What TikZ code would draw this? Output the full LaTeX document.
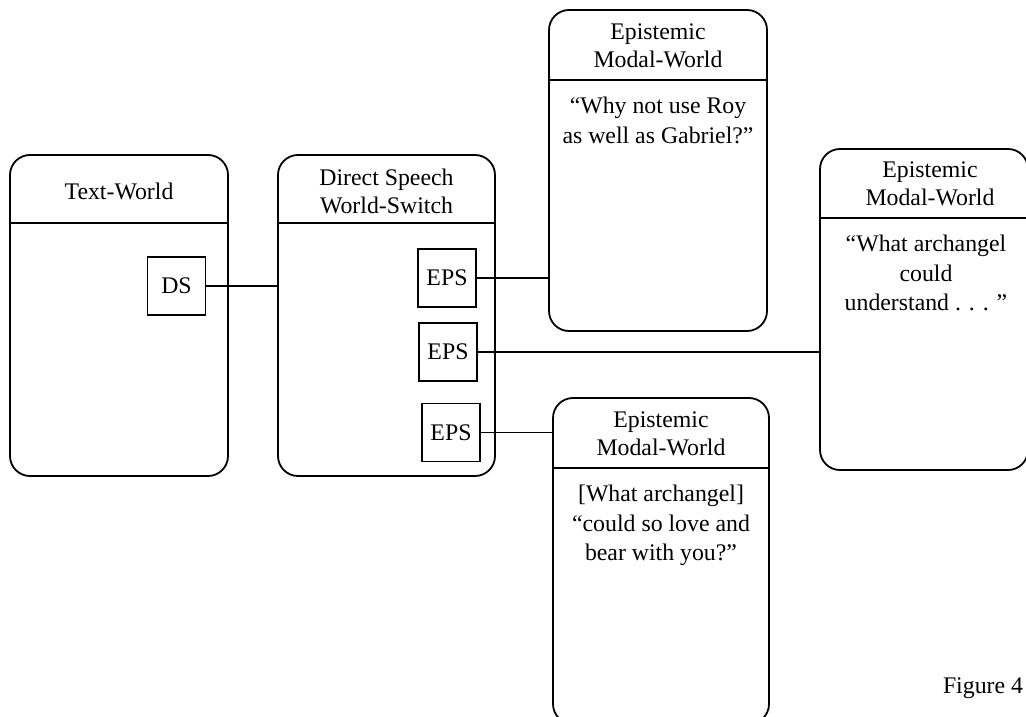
\documentclass[tikz,border=0pt]{standalone}
\usepackage{fontspec}
\setmainfont{Liberation Serif}
\begin{document}
\begin{tikzpicture}[x=1pt,y=-1pt,
  world/.style={draw, line width=1.8pt, rounded corners=20pt, inner sep=0pt},
  rule/.style={line width=1.8pt},
  slot/.style={draw, line width=1.7pt, inner sep=0pt, minimum width=58pt,
    minimum height=58pt, font=\fontsize{23.8}{28}\selectfont},
  head/.style={align=center, font=\fontsize{23.8}{28}\selectfont, inner sep=0pt},
  body/.style={align=center, font=\fontsize{23.8}{29.5}\selectfont, inner sep=0pt, anchor=north},
  link/.style={line width=1.6pt}]
\useasboundingbox (0,0) rectangle (1026,717);
\clip (0,0) rectangle (1026,717);

% world frames
\node[world, minimum width=218pt, minimum height=321pt] (tw)  at (119,315.5) {};
\node[world, minimum width=217pt, minimum height=321pt] (ws)  at (386.5,315.5) {};
\node[world, minimum width=218pt, minimum height=321pt] (em1) at (658,170.5) {};
\node[world, minimum width=208pt, minimum height=321pt] (em2) at (924,309.5) {};
\node[world, minimum width=216pt, minimum height=326pt] (em3) at (661,561) {};

% header rules
\draw[rule] (tw.west  |- 0,223) -- (tw.east  |- 0,223);
\draw[rule] (ws.west  |- 0,223) -- (ws.east  |- 0,223);
\draw[rule] (em1.west |- 0,80)  -- (em1.east |- 0,80);
\draw[rule] (em2.west |- 0,218) -- (em2.east |- 0,218);
\draw[rule] (em3.west |- 0,468) -- (em3.east |- 0,468);

% headers
\node[head] (twh)  at (119,191)   {Text-World};
\node[head] (wsh)  at (386.5,191) {Direct Speech\\World-Switch};
\node[head] (em1h) at (658,46)    {Epistemic\\Modal-World};
\node[head] (em2h) at (930,184)   {Epistemic\\Modal-World};
\node[head] (em3h) at (661,434)   {Epistemic\\Modal-World};

% body texts
\node[body] (em1b) at (658,97)  {“Why not use Roy\\as well as Gabriel?”};
\node[body] (em2b) at (926,235) {“What archangel\\could\\understand . . . ”};
\node[body] (em3b) at (661,485) {[What archangel]\\“could so love and\\bear with you?”};

% switch slots
\node[slot] (ds)   at (176.5,286) {DS};
\node[slot] (eps1) at (447,278)   {EPS};
\node[slot] (eps2) at (448,352)   {EPS};
\node[slot] (eps3) at (451,432.5) {EPS};

% connectors
\draw[link] (ds.east)   -- (ds.east -| ws.west);
\draw[link] (eps1.east) -- (eps1.east -| em1.west);
\draw[link] (eps2.east) -- (eps2.east -| em2.west);
\draw[link] (eps3.east) -- (eps3.east -| em3.west);

\node[head] (fig) at (983,688) {Figure 4};
\end{tikzpicture}
\end{document}
